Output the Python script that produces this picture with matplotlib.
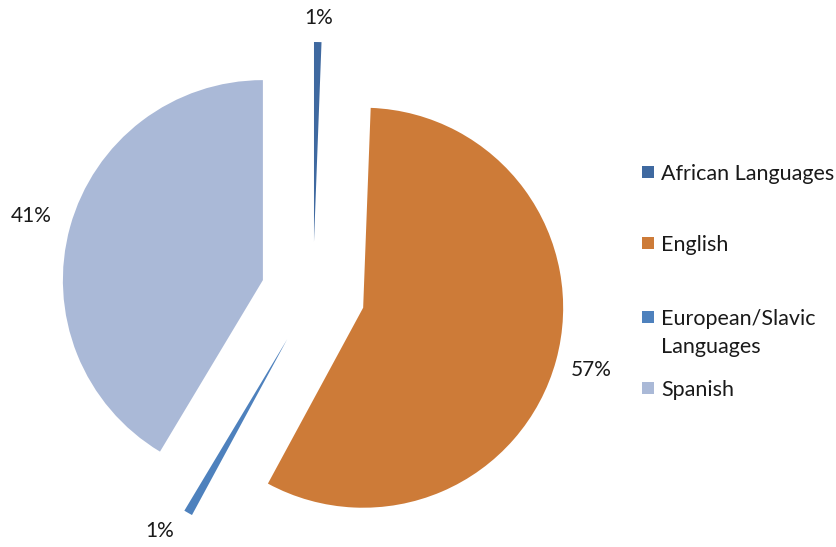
import math
import matplotlib
matplotlib.use("Agg")
import matplotlib.pyplot as plt
from matplotlib.patches import Rectangle

plt.rcParams['font.family'] = ['Lato', 'DejaVu Sans']

categories = ["African Languages", "English", "European/Slavic\nLanguages", "Spanish"]
values = [0.6, 57.3, 0.7, 41.4]
colors = ["#3F69A0", "#CD7B38", "#4E81BD", "#AAB9D7"]

W, H = 836, 547
fig = plt.figure(figsize=(W / 100, H / 100), dpi=100)
ax = fig.add_axes([0, 0, 1, 1])

R = 200
wedges, texts, autotexts = ax.pie(
    values, colors=colors, startangle=90, counterclock=False,
    radius=R, center=(313, H - 294), explode=[52] * len(values),
    autopct='%1.0f%%', pctdistance=1.17, frame=True,
    textprops=dict(fontsize=15, color='#1a1a1a'),
    wedgeprops=dict(linewidth=0))

# per-label distance from the wedge centre (in radii) and angle nudge (deg)
label_dist = [1.12, 1.18, 1.15, 1.20]
label_turn = [0, 0, -4, 0]
for w, t, d, a in zip(wedges, autotexts, label_dist, label_turn):
    th = math.radians(0.5 * (w.theta1 + w.theta2) + a)
    cx, cy = w.center
    t.set_position((cx + d * R * math.cos(th), cy + d * R * math.sin(th)))

ax.set_xlim(0, W)
ax.set_ylim(0, H)
ax.set_aspect('equal')
ax.axis('off')

# legend (manual, to match irregular spacing)
leg_y = [172, 243, 317, 388]
for lab, col, y in zip(categories, colors, leg_y):
    fig.add_artist(Rectangle((642 / W, 1 - (y + 6) / H), 12 / W, 12 / H,
                             transform=fig.transFigure, color=col, lw=0))
    for i, line in enumerate(lab.split('\n')):
        fig.text(661 / W, 1 - (y + i * 28) / H, line, fontsize=15.5,
                 va='center_baseline', ha='left', color='#1a1a1a')

fig.savefig("out.png", dpi=100)
